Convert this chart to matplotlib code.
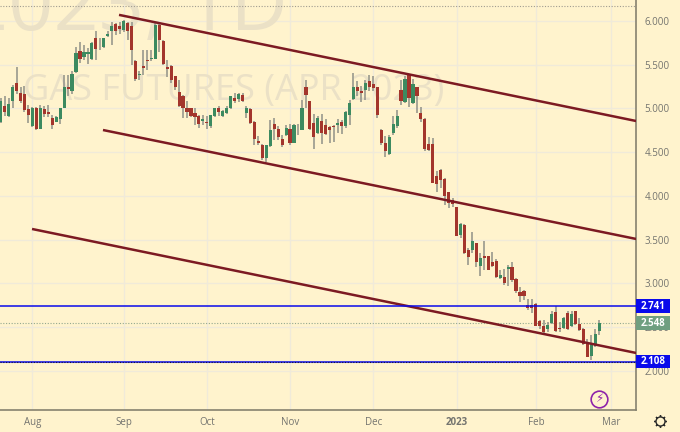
import matplotlib
matplotlib.use('Agg')
import matplotlib.pyplot as plt
from matplotlib.lines import Line2D
from matplotlib.patches import Rectangle

opens = [4.85, 5.03, 4.91, 5.09, 5.29, 5.18, 5.16, 4.99, 4.80, 5.01,
         4.77, 4.99, 4.96, 4.89, 4.85, 4.88, 5.01, 5.24, 5.20, 5.42,
         5.66, 5.59, 5.62, 5.57, 5.80, 5.72, 5.70, 5.83, 5.89, 5.97,
         5.94, 5.90, 5.98, 5.94, 5.54, 5.38, 5.48, 5.55, 5.56, 5.57,
         5.95, 5.77, 5.47, 5.49, 5.37, 5.19, 5.14, 5.01, 5.00, 4.95,
         4.91, 4.86, 4.85, 4.80, 4.91, 5.01, 4.91, 4.95, 5.00, 5.12,
         5.11, 5.15, 4.95, 4.99, 4.85, 4.63, 4.58, 4.43, 4.57, 4.82,
         4.76, 4.65, 4.70, 4.77, 4.61, 4.76, 4.75, 5.24, 5.08, 4.83,
         4.72, 4.86, 4.81, 4.79, 4.80, 4.81, 4.85, 4.80, 4.92, 5.11,
         5.24, 5.20, 5.21, 5.31, 5.28, 5.24, 4.75, 4.61, 4.48, 4.72,
         4.80, 5.21, 5.07, 5.38, 5.06, 5.24, 4.95, 4.88, 4.59, 4.59,
         4.23, 4.30, 4.19, 4.05, 3.95, 3.87, 3.55, 3.67, 3.38, 3.38,
         3.46, 3.20, 3.31, 3.31, 3.25, 3.26, 3.06, 3.07, 3.17, 3.19,
         3.05, 2.90, 2.91, 2.75, 2.75, 2.77, 2.57, 2.51, 2.48, 2.55,
         2.67, 2.49, 2.49, 2.66, 2.51, 2.68, 2.54, 2.48, 2.32, 2.17,
         2.28, 2.46]
closes = [5.08, 4.96, 5.05, 5.24, 5.20, 5.09, 4.98, 4.93, 5.00, 4.77,
          5.00, 4.94, 4.94, 4.81, 4.90, 5.01, 5.24, 5.22, 5.39, 5.63,
          5.57, 5.65, 5.65, 5.75, 5.68, 5.73, 5.80, 5.85, 5.94, 5.89,
          5.91, 6.00, 5.89, 5.67, 5.34, 5.39, 5.46, 5.54, 5.58, 5.95,
          5.78, 5.51, 5.45, 5.32, 5.24, 5.03, 5.01, 4.96, 4.91, 4.90,
          4.82, 4.88, 4.83, 4.92, 5.00, 4.96, 4.97, 5.01, 5.14, 5.09,
          5.17, 5.08, 5.01, 4.83, 4.65, 4.61, 4.43, 4.58, 4.75, 4.76,
          4.67, 4.58, 4.78, 4.61, 4.81, 4.77, 5.01, 5.15, 4.76, 4.67,
          4.89, 4.72, 4.71, 4.75, 4.79, 4.83, 4.80, 4.96, 5.06, 5.25,
          5.20, 5.18, 5.29, 5.24, 5.23, 4.93, 4.60, 4.51, 4.67, 4.82,
          4.91, 5.08, 5.34, 5.12, 5.28, 5.14, 4.88, 4.54, 4.53, 4.15,
          4.14, 4.18, 4.00, 3.92, 3.91, 3.54, 3.68, 3.35, 3.30, 3.48,
          3.24, 3.29, 3.29, 3.15, 3.20, 3.07, 3.10, 3.01, 3.19, 3.04,
          2.91, 2.86, 2.86, 2.72, 2.72, 2.51, 2.51, 2.45, 2.53, 2.65,
          2.46, 2.48, 2.60, 2.48, 2.65, 2.54, 2.47, 2.31, 2.16, 2.31,
          2.42, 2.548]
highs = [5.12, 5.14, 5.12, 5.27, 5.47, 5.24, 5.26, 5.04, 5.02, 5.02,
         5.04, 5.03, 5.04, 4.93, 4.91, 5.01, 5.38, 5.38, 5.43, 5.70,
         5.76, 5.73, 5.69, 5.76, 5.88, 5.80, 5.81, 5.88, 5.99, 5.98,
         5.99, 6.01, 5.99, 5.99, 5.55, 5.43, 5.67, 5.67, 5.67, 5.98,
         5.97, 5.78, 5.55, 5.50, 5.37, 5.32, 5.15, 5.08, 5.01, 5.01,
         4.93, 4.93, 4.91, 4.93, 5.01, 5.03, 4.98, 5.03, 5.14, 5.18,
         5.18, 5.18, 5.03, 5.00, 4.86, 4.68, 4.59, 4.58, 4.87, 4.89,
         4.80, 4.70, 4.81, 4.82, 4.82, 4.82, 5.10, 5.33, 5.09, 4.94,
         4.91, 4.94, 4.88, 4.80, 4.81, 4.88, 4.87, 4.97, 5.10, 5.40,
         5.31, 5.26, 5.33, 5.38, 5.37, 5.24, 4.77, 4.68, 4.70, 4.91,
         4.98, 5.33, 5.37, 5.39, 5.34, 5.24, 5.02, 4.89, 4.67, 4.66,
         4.28, 4.31, 4.20, 4.05, 3.98, 3.87, 3.69, 3.68, 3.40, 3.59,
         3.46, 3.35, 3.48, 3.31, 3.36, 3.28, 3.15, 3.16, 3.21, 3.25,
         3.06, 2.96, 2.93, 2.82, 2.82, 2.78, 2.58, 2.58, 2.56, 2.68,
         2.74, 2.56, 2.62, 2.68, 2.68, 2.69, 2.61, 2.49, 2.37, 2.41,
         2.48, 2.58]
lows = [4.83, 4.91, 4.90, 5.01, 5.17, 5.06, 4.96, 4.83, 4.79, 4.75,
        4.76, 4.90, 4.90, 4.77, 4.84, 4.82, 5.00, 5.14, 5.17, 5.41,
        5.52, 5.55, 5.51, 5.55, 5.55, 5.67, 5.69, 5.82, 5.73, 5.84,
        5.85, 5.87, 5.78, 5.50, 5.31, 5.32, 5.38, 5.44, 5.54, 5.56,
        5.65, 5.50, 5.36, 5.29, 5.21, 5.02, 4.89, 4.89, 4.90, 4.81,
        4.78, 4.81, 4.76, 4.78, 4.90, 4.91, 4.90, 4.94, 4.99, 5.06,
        5.07, 5.07, 4.89, 4.82, 4.58, 4.58, 4.41, 4.39, 4.56, 4.64,
        4.64, 4.56, 4.69, 4.58, 4.61, 4.70, 4.75, 5.00, 4.75, 4.54,
        4.71, 4.59, 4.70, 4.60, 4.62, 4.72, 4.71, 4.78, 4.81, 5.10,
        5.14, 5.07, 5.10, 5.20, 5.20, 4.89, 4.58, 4.44, 4.47, 4.70,
        4.78, 5.04, 5.06, 5.02, 5.05, 4.95, 4.85, 4.51, 4.51, 4.15,
        4.05, 4.09, 3.90, 3.86, 3.87, 3.54, 3.52, 3.34, 3.21, 3.35,
        3.19, 3.09, 3.15, 3.15, 3.19, 3.06, 3.05, 2.98, 2.97, 3.02,
        2.89, 2.79, 2.81, 2.70, 2.66, 2.51, 2.48, 2.42, 2.45, 2.54,
        2.45, 2.45, 2.48, 2.47, 2.50, 2.53, 2.46, 2.30, 2.16, 2.12,
        2.27, 2.41]

month_pos = [8, 31, 52, 73, 94, 115, 135, 154]
month_labels = ['Aug', 'Sep', 'Oct', 'Nov', 'Dec', '2023', 'Feb', 'Mar']
price_ticks = [2.0, 2.5, 3.0, 3.5, 4.0, 4.5, 5.0, 5.5, 6.0]

# channel lines: (start idx, start price, end idx, end price)
channel_top = (29.85, 6.07, 160.3, 4.857)
channel_mid = (25.8, 4.754, 160.3, 3.509)
channel_low = (7.9, 3.623, 160.3, 2.206)

support = 2.108
resistance = 2.741
last_price = 2.548
session_high = 6.166

BG = '#fff3cd'
RED = '#a3352c'
GREEN = '#3c8a60'
WICK = '#94948a'
BLUE = '#0a0aeb'
MAROON = '#7c1a22'
TXT = '#74746f'
WATER = '#ebe1c6'

plt.rcParams['font.family'] = ['Open Sans', 'DejaVu Sans']

fig = plt.figure(figsize=(6.8, 4.32), dpi=100, facecolor=BG)
ax = fig.add_axes([0, 22 / 432, 636 / 680, 410 / 432], facecolor=BG)
ax.set_xlim(-0.18, 160.27)
ax.set_ylim(1.554, 6.24)

ax.grid(True, color='#f0ead9', linewidth=1.0, zorder=0)
ax.set_axisbelow(True)

# watermark
ax.text(-9.6, 6.126, '2023, 1D', fontsize=57, color=WATER, ha='left', va='center',
        zorder=1, clip_on=True)
ax.text(5.5, 5.2, 'GAS FUTURES (APR 2023)', fontsize=26, color=WATER, ha='left', va='center',
        zorder=1, clip_on=True)

ax.axhline(session_high, color='#a09c90', linewidth=0.8, linestyle=(0, (1, 1.5)), zorder=2)
ax.axhline(last_price, color='#93a88f', linewidth=0.8, linestyle=(0, (1, 1.5)), zorder=2)

idx = list(range(len(opens)))
for i in idx:
    col = GREEN if closes[i] >= opens[i] else RED
    ax.vlines(i, lows[i], highs[i], color=WICK, linewidth=1.15, zorder=3)
    ax.bar(i, abs(closes[i] - opens[i]), bottom=min(opens[i], closes[i]), width=0.8,
           color=col, linewidth=0, zorder=4)

for line in [channel_top, channel_mid, channel_low]:
    ax.plot([line[0], line[2]], [line[1], line[3]], color=MAROON, linewidth=1.8,
            solid_capstyle='butt', zorder=5)

ax.axhline(resistance, color=BLUE, linewidth=1.1, zorder=6)
ax.axhline(support, color=BLUE, linewidth=1.1, zorder=6)
ax.axhline(support, color='#10103a', linewidth=0.8, linestyle=(0, (1, 1.5)), zorder=7)

for side in ['top', 'left']:
    ax.spines[side].set_visible(False)
for side in ['right', 'bottom']:
    ax.spines[side].set_color('#86826f')
    ax.spines[side].set_linewidth(1.2)

ax.yaxis.tick_right()
ax.set_yticks(price_ticks)
ax.set_yticklabels(['%.3f' % p for p in price_ticks], fontsize=7, color=TXT)
ax.set_xticks(month_pos)
ax.set_xticklabels(month_labels, fontsize=7, color=TXT)
ax.tick_params(axis='both', length=0)
ax.tick_params(axis='x', pad=5)
ax.tick_params(axis='y', pad=6)
for lab in ax.get_xticklabels():
    if lab.get_text() == '2023':
        lab.set_fontweight('bold')

# price tags on the axis
yx = ax.get_yaxis_transform()
for val, col in [(resistance, BLUE), (last_price, '#6f9f80'), (support, BLUE)]:
    ax.add_patch(Rectangle((1, val - 0.076), 34 / 636, 0.152, transform=yx, facecolor=col,
                           edgecolor='none', clip_on=False, zorder=10))
    ax.text(1 + 17 / 636, val, '%.3f' % val, transform=yx, fontsize=7, color='white',
            fontweight='bold', ha='center', va='center', clip_on=False, zorder=11)

# icons
fig.add_artist(Line2D([599 / 680], [1 - 399 / 432], transform=fig.transFigure, marker='o', markersize=12,
                      markerfacecolor=BG, markeredgecolor='#8e24aa', markeredgewidth=1.2))
fig.text(599 / 680, 1 - 399 / 432, '\u26a1', fontsize=8.5, color='#8e24aa', ha='center', va='center',
         family='DejaVu Sans', zorder=12)
fig.add_artist(Line2D([660 / 680], [1 - 421 / 432], transform=fig.transFigure, marker=(8, 2, 0), markersize=9,
                      color='#2a2a2a', markeredgewidth=1.0))
fig.add_artist(Line2D([660 / 680], [1 - 421 / 432], transform=fig.transFigure, marker='o', markersize=6.5,
                      markerfacecolor=BG, markeredgecolor='#2a2a2a', markeredgewidth=1.0))

fig.savefig('out.png', dpi=100, facecolor=BG)
